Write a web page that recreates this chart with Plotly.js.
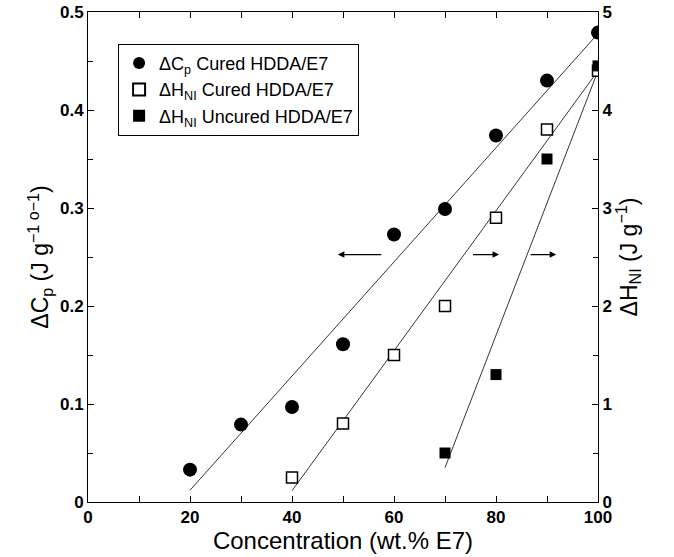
<!DOCTYPE html>
<html>
<head>
<meta charset="utf-8">
<script src="https://cdn.plot.ly/plotly-3.0.1.min.js"></script>
<style>html,body{margin:0;padding:0;background:#fff;}#chart{width:674px;height:557px;}</style>
</head>
<body>
<div id="chart"></div>
<script>
// Data
var cpX = [20, 30, 40, 50, 60, 70, 80, 90, 100];
var cpY = [0.033, 0.079, 0.097, 0.161, 0.273, 0.299, 0.374, 0.430, 0.479];
var hCuredX = [40, 50, 60, 70, 80, 90, 100];
var hCuredY = [0.25, 0.80, 1.50, 2.00, 2.90, 3.80, 4.40];
var hUncuredX = [70, 80, 90, 100];
var hUncuredY = [0.50, 1.30, 3.50, 4.45];
// Fit lines (end points)
var cpFitX = [20, 100];
var cpFitY = [0.012, 0.478];
var hCuredFitX = [40, 100];
var hCuredFitY = [0.115, 4.40];
var hUncuredFitX = [70, 100];
var hUncuredFitY = [0.35, 4.40];
// Arrows: [fromX, toX] at y level (left axis)
var arrowY = 0.2525;
var arrows = [[57.8, 49.0], [75.2, 80.6], [86.5, 91.8]];

var FONT = "Liberation Sans, Arial, Helvetica, sans-serif";

var traces = [
  {x: cpFitX, y: cpFitY, mode: 'lines', line: {color: '#000', width: 0.8}, showlegend: false, hoverinfo: 'skip'},
  {x: hCuredFitX, y: hCuredFitY, yaxis: 'y2', mode: 'lines', line: {color: '#000', width: 0.8}, showlegend: false, hoverinfo: 'skip'},
  {x: hUncuredFitX, y: hUncuredFitY, yaxis: 'y2', mode: 'lines', line: {color: '#000', width: 0.8}, showlegend: false, hoverinfo: 'skip'},
  {x: cpX, y: cpY, mode: 'markers', name: 'ΔC<sub>p</sub> Cured HDDA/E7',
   marker: {symbol: 'circle', size: 14, color: '#000'}},
  {x: hCuredX, y: hCuredY, yaxis: 'y2', mode: 'markers', name: 'ΔH<sub>NI</sub> Cured HDDA/E7',
   marker: {symbol: 'square', size: 11, color: '#fff', line: {color: '#000', width: 1.5}}},
  {x: hUncuredX, y: hUncuredY, yaxis: 'y2', mode: 'markers', name: 'ΔH<sub>NI</sub> Uncured HDDA/E7',
   marker: {symbol: 'square', size: 11, color: '#000'}}
];

var annotations = arrows.map(function(a){
  return {x: a[1], y: arrowY, ax: a[0], ay: arrowY, xref: 'x', yref: 'y', axref: 'x', ayref: 'y',
          text: '', showarrow: true, arrowhead: 2, arrowsize: 1, arrowwidth: 1.3, arrowcolor: '#000'};
});

var layout = {
  width: 674, height: 557,
  margin: {l: 88, r: 76, t: 12, b: 55},
  paper_bgcolor: '#fff', plot_bgcolor: '#fff',
  font: {family: FONT, color: '#000'},
  showlegend: true,
  legend: {x: 0.059, y: 0.935, xanchor: 'left', yanchor: 'top', bgcolor: '#fff',
           bordercolor: '#000', borderwidth: 1, font: {size: 18, family: FONT},
           tracegroupgap: 0, itemsizing: 'constant'},
  xaxis: {range: [0, 100], dtick: 20, ticks: 'inside', ticklen: 6, tickcolor: '#000',
          showline: true, linecolor: '#000', linewidth: 1, mirror: 'ticks', showgrid: false, zeroline: false,
          minor: {dtick: 10, ticks: 'inside', ticklen: 6, tickcolor: '#000'},
          tickfont: {size: 17, family: FONT, weight: 'bold'},
          title: {text: 'Concentration (wt.% E7)', font: {size: 24, family: FONT}, standoff: 2}},
  yaxis: {range: [0, 0.5], dtick: 0.1, ticks: 'inside', ticklen: 6, tickcolor: '#000',
          showline: true, linecolor: '#000', linewidth: 1, showgrid: false, zeroline: false,
          minor: {dtick: 0.05, ticks: 'inside', ticklen: 5, tickcolor: '#000'},
          tickfont: {size: 17, family: FONT, weight: 'bold'},
          title: {text: 'ΔC<sub>p</sub> (J g<sup>−1 o−1</sup>)', font: {size: 23, family: FONT}, standoff: 4}},
  yaxis2: {range: [0, 5], dtick: 1, overlaying: 'y', side: 'right', ticks: 'inside', ticklen: 6, tickcolor: '#000',
           showline: true, linecolor: '#000', linewidth: 1, showgrid: false, zeroline: false,
           minor: {dtick: 0.5, ticks: 'inside', ticklen: 5, tickcolor: '#000'},
           tickfont: {size: 17, family: FONT, weight: 'bold'},
           title: {text: 'ΔH<sub>NI</sub> (J g<sup>−1</sup>)', font: {size: 23, family: FONT}, standoff: 8}},
  annotations: annotations
};

Plotly.newPlot('chart', traces, layout, {displayModeBar: false, staticPlot: true});
</script>
</body>
</html>
